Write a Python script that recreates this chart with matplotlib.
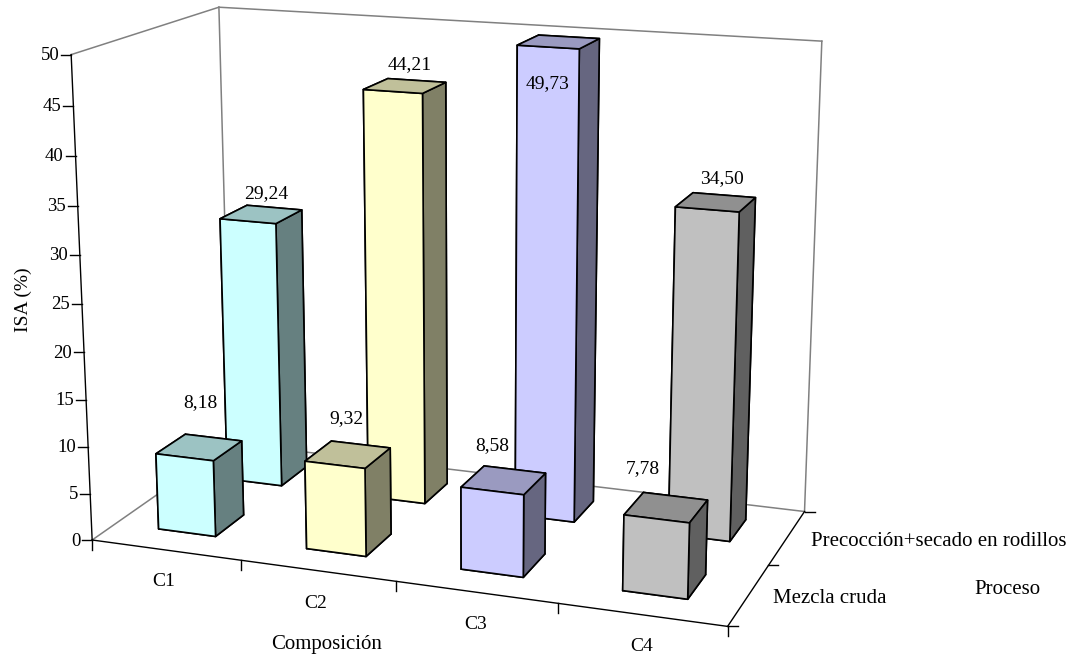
"""ISA (%) por composición y proceso: barras 3D de estilo Excel."""
import matplotlib

matplotlib.use("Agg")
import matplotlib.pyplot as plt  # noqa: E402
import numpy as np  # noqa: E402

W, H = 1077, 656

COMPOSICION = ["C1", "C2", "C3", "C4"]
PROCESO = ["Mezcla cruda", "Precocción+secado en rodillos"]
MEZCLA_CRUDA = [8.18, 9.32, 8.58, 7.78]
PRECOCCION = [29.24, 44.21, 49.73, 34.50]
ISA_TICKS = [0, 5, 10, 15, 20, 25, 30, 35, 40, 45, 50]

FRONT = ["#CCFFFF", "#FFFFCC", "#CCCCFF", "#C0C0C0"]
TOP = ["#9CC3C3", "#C0C09A", "#9A9AC0", "#909090"]
SIDE = ["#668080", "#808066", "#666680", "#606060"]

# esquinas de la caja (x, y, z) -> pixel, para ajustar la camara
BOX = [(0, 0, 0), (4, 0, 0), (4, 2, 0), (0, 2, 0), (0, 0, 50), (0, 2, 50), (4, 2, 50)]
BOX_PX = [(91, 540), (728, 626), (804, 512), (232, 443), (72, 55), (218, 7), (822, 41)]


def fit_camera(world, pixels):
    rows, rhs = [], []
    for (x, y, z), (u, v) in zip(world, pixels):
        rows.append([x, y, z, 1, 0, 0, 0, 0, -u * x, -u * y, -u * z])
        rows.append([0, 0, 0, 0, x, y, z, 1, -v * x, -v * y, -v * z])
        rhs += [u, v]
    p = np.linalg.lstsq(np.array(rows, float), np.array(rhs, float), rcond=None)[0]
    return np.append(p, 1).reshape(3, 4)


CAM = fit_camera(BOX, BOX_PX)


def project(x, y, z):
    u, v, w = CAM @ np.array([x, y, z, 1.0])
    return u / w, v / w


fig = plt.figure(figsize=(W / 100, H / 100), dpi=100)
ax = fig.add_axes([0, 0, 1, 1], projection="3d", computed_zorder=False)
ax.set_axis_off()
ax.patch.set_alpha(0)


def camera_proj():
    vl = ax.viewLim
    to_view = np.array([
        [(vl.x1 - vl.x0) / W, 0, 0, vl.x0],
        [0, (vl.y0 - vl.y1) / H, 0, vl.y1],
        [0, 0, 1, 0],
        [0, 0, 0, 1],
    ])
    return to_view @ np.array([CAM[0], CAM[1], [0, 0, 0, -1], CAM[2]])


ax.get_proj = camera_proj
ax.apply_aspect = lambda position=None: None

GRAY = "#808080"
for xs, ys, zs in [
    ([0, 0], [0, 2], [0, 0]),
    ([0, 4], [2, 2], [0, 0]),
    ([0, 0], [2, 2], [0, 50]),
    ([4, 4], [2, 2], [0, 50]),
    ([0, 4], [2, 2], [50, 50]),
    ([0, 0], [0, 2], [50, 50]),
]:
    ax.plot(xs, ys, zs, color=GRAY, lw=1.1, zorder=1)

BAR_X0 = 0.295
BAR_W = 0.39
BAR_Y0 = 0.315
BAR_D = 0.41
for row, vals in enumerate([PRECOCCION, MEZCLA_CRUDA]):
    y0 = (1 - row) + BAR_Y0
    for i, v in enumerate(vals):
        # orden de caras: abajo, arriba, -y, +y, -x, +x
        faces = [SIDE[i], TOP[i], FRONT[i], FRONT[i], SIDE[i], SIDE[i]]
        ax.bar3d(i + BAR_X0, y0, 0, BAR_W, BAR_D, v, color=faces, shade=False,
                 edgecolor="k", linewidth=1.2, zorder=2 + row)

ax.plot([0, 0], [0, 0], [0, 50], color="k", lw=1, zorder=5)
ax.plot([0, 4], [0, 0], [0, 0], color="k", lw=1, zorder=5)
ax.plot([4, 4], [0, 2], [0, 0], color="k", lw=1, zorder=5)

# capa 2D en pixeles para marcas y textos
over = fig.add_axes([0, 0, 1, 1])
over.set_xlim(0, W)
over.set_ylim(H, 0)
over.set_axis_off()
over.patch.set_alpha(0)
SERIF = "Liberation Serif"
FONT = dict(family=SERIF, fontsize=14, color="black")
TICK_FONT = dict(family=SERIF, fontsize=13.5, color="black")
NAME_FONT = dict(family=SERIF, fontsize=15, color="black")

for t in ISA_TICKS:
    u, v = project(0, 0, t)
    over.plot([u - 10, u], [v, v], color="k", lw=1)
    over.text(u - 12, v + 1, str(t), ha="right", va="center", **TICK_FONT)

for i in range(5):
    u, v = project(i, 0, 0)
    over.plot([u, u], [v, v + 10], color="k", lw=1)
for j in range(3):
    u, v = project(4, j, 0)
    over.plot([u, u + 10], [v, v], color="k", lw=1)

CAT_DX = [-2, -2, 0, 0]
CAT_DY = [32, 33, 32, 32]
for i, name in enumerate(COMPOSICION):
    u, v = project(i + 0.5, 0, 0)
    over.text(u + CAT_DX[i], v + CAT_DY[i], name, ha="center", va="center", **FONT)

for j, name in enumerate(PROCESO):
    u, v = project(4, j + 0.5, 0)
    over.text(u + 24, v + 4, name, ha="left", va="center", **NAME_FONT)

over.text(327, 645, "Composición", ha="center", va="center", **NAME_FONT)
over.text(1007, 590, "Proceso", ha="center", va="center", **NAME_FONT)
over.text(23, 300, "ISA (%)", ha="center", va="center", rotation=90, **FONT)

FRONT_LABEL_POS = [(200, 403), (346, 419), (492, 446), (643, 469)]
BACK_LABEL_POS = [(266, 194), (410, 65), (548, 84), (722, 179)]
for vals, pos in [(MEZCLA_CRUDA, FRONT_LABEL_POS), (PRECOCCION, BACK_LABEL_POS)]:
    for v, (u, w) in zip(vals, pos):
        over.text(u, w, f"{v:.2f}".replace(".", ","), ha="center", va="center", **FONT)

fig.savefig("out.png", dpi=100)
